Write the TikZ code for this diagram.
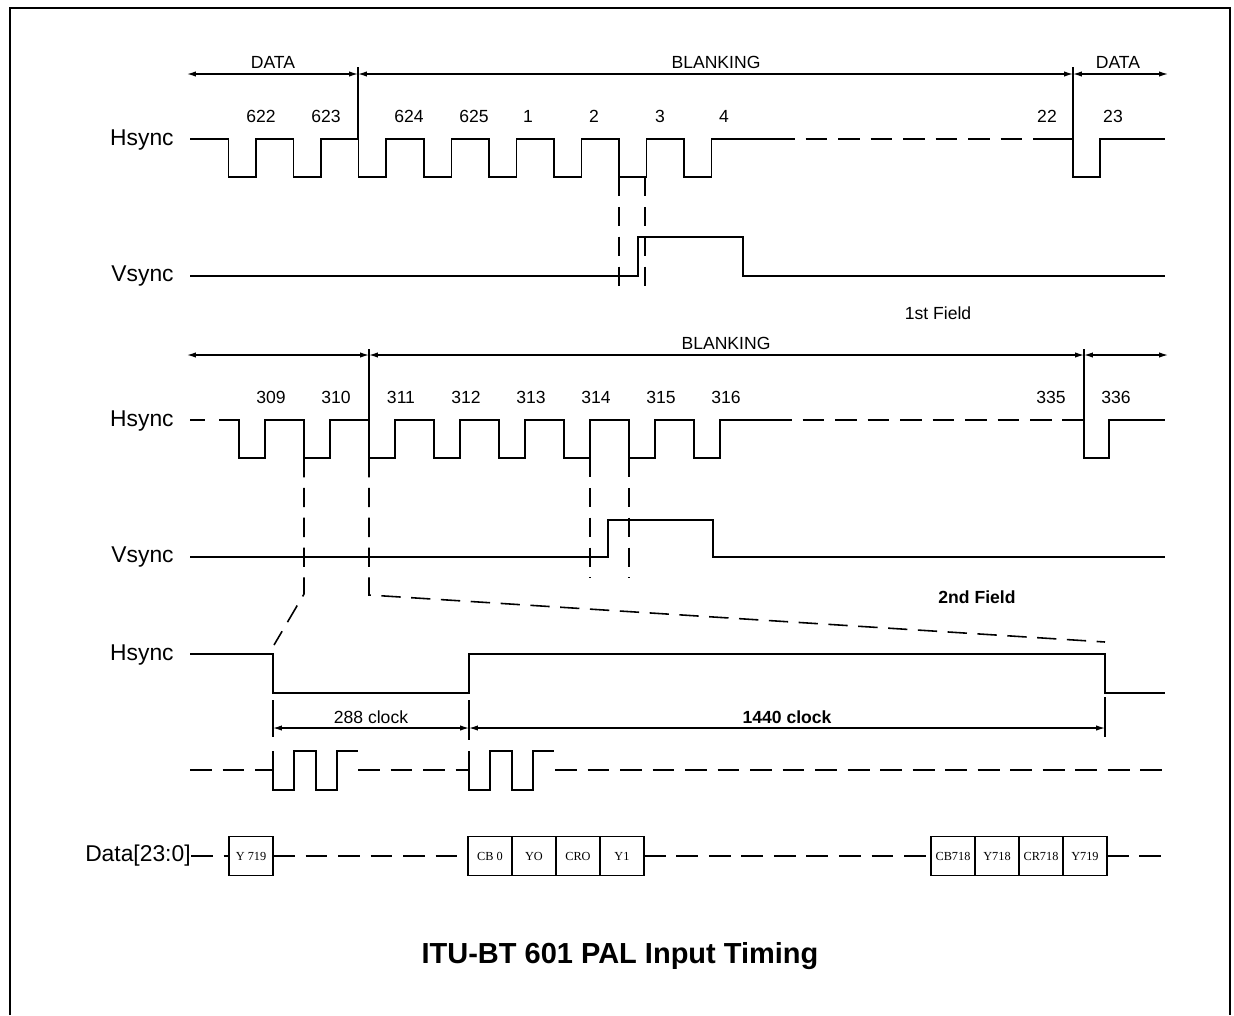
\documentclass[tikz,border=0pt]{standalone}
\usepackage{fontspec}
\setmainfont{Liberation Sans}
\newfontfamily\cellfont{Liberation Serif}
\usetikzlibrary{calc}
\usetikzlibrary{arrows.meta}
\usetikzlibrary{positioning}

\tikzset{
  sig/.style={line width=0.9pt},
  gapline/.style={line width=0.9pt,dash pattern=on 12.5pt off 6pt},
  guide/.style={line width=0.9pt,dash pattern=on 11pt off 6pt},
  dimarrow/.style={line width=0.7pt,{Latex[length=5pt,width=3pt]}-{Latex[length=5pt,width=3pt]}},
  lbl/.style={font=\fontsize{10}{12}\selectfont,inner sep=1pt},
  signame/.style={font=\fontsize{13}{15}\selectfont,anchor=east,inner sep=0pt},
  cell/.style={draw,line width=0.7pt,minimum width=0.88cm,minimum height=0.78cm,
    inner sep=0pt,outer sep=0pt,font=\cellfont\fontsize{7}{8}\selectfont},
}

\begin{document}
\begin{tikzpicture}[x=0.02cm,y=-0.02cm]
  % Constants
  \pgfmathsetmacro\pa{65.1}
  \pgfmathsetmacro\pb{65}
  % Boundary
  \useasboundingbox (0,0) rectangle (1234,1015);
  \draw[line width=1pt] (10,1015) -- (10,8) -- (1230,8) -- (1230,1015);

  % ---- 1st field ----
  \coordinate (ta) at (187,74);
  \coordinate (tb) at (358,74);
  \coordinate (tc) at (1073,74);
  \coordinate (td) at (1168,74);
  \draw[dimarrow] (ta) -- (tb);
  \draw[dimarrow] (tb) -- (tc);
  \draw[dimarrow] (tc) -- (td);
  \draw[sig] (358,67) -- (358,139);
  \draw[sig] (1073,67) -- (1073,139);
  \node[lbl] (data1) at (273,62) {DATA};
  \node[lbl] (blank1) at (716,62) {BLANKING};
  \node[lbl] (data2) at (1118,62) {DATA};
  \foreach \num/\xx in {622/261,623/326,624/409,625/474,1/528,2/594,3/660,4/724,22/1047,23/1113}
    \node[lbl] (n\num) at (\xx,116) {\num};

  \node[signame] (hs1) at (174,140) {Hsync};
  \draw[sig] (190,139) \foreach \i in {0,...,7} {
      -- ({228.5+\pa*\i},139) -- ++(0,38) -- ++(27.5,0) -- ++(0,-38) } -- (773,139);
  \draw[gapline] (773,139) -- (1050,139);
  \draw[sig] (1050,139) -- (1073,139) -- (1073,177) -- (1100,177) -- (1100,139) -- (1165,139);

  \node[signame] (vs1) at (174,276) {Vsync};
  \draw[sig] (190,276) -- (638,276) -- (638,237) -- (743,237) -- (743,276) -- (1165,276);
  \draw[guide] (619,177) -- (619,291);
  \draw[guide] (645,177) -- (645,291);
  \node[lbl] (field1) at (938,313) {1st Field};

  % ---- 2nd field ----
  \coordinate (ua) at (187,355);
  \coordinate (ub) at (369,355);
  \coordinate (uc) at (1084,355);
  \coordinate (ud) at (1168,355);
  \draw[dimarrow] (ua) -- (ub);
  \draw[dimarrow] (ub) -- (uc);
  \draw[dimarrow] (uc) -- (ud);
  \draw[sig] (369,349) -- (369,420);
  \draw[sig] (1084,349) -- (1084,420);
  \node[lbl] (blank2) at (726,343) {BLANKING};
  \foreach \num/\xx in {309/271,310/336,311/401,312/466,313/531,314/596,315/661,316/726,335/1051,336/1116}
    \node[lbl] (n\num) at (\xx,397) {\num};

  \node[signame] (hs2) at (174,421) {Hsync};
  \draw[sig] (190,420) -- (205,420);
  \draw[sig] (219,420) \foreach \i in {0,...,7} {
      -- ({239+\pb*\i},420) -- ++(0,38) -- ++(26,0) -- ++(0,-38) } -- (770,420);
  \draw[gapline] (770,420) -- (1062,420);
  \draw[sig] (1062,420) -- (1084,420) -- (1084,458) -- (1109,458) -- (1109,420) -- (1165,420);

  \node[signame] (vs2) at (174,557) {Vsync};
  \draw[sig] (190,557) -- (608,557) -- (608,520) -- (713,520) -- (713,557) -- (1165,557);
  \draw[guide] (590,458) -- (590,578);
  \draw[guide] (629,458) -- (629,578);
  \node[lbl,font=\bfseries\fontsize{10}{12}\selectfont] (field2) at (977,597) {2nd Field};

  % zoom lines
  \draw[guide] (304,458) -- (304,594) -- (274,645);
  \draw[guide] (369,458) -- (369,595) -- (1105,642);

  % ---- one line ----
  \node[signame] (hs3) at (174,655) {Hsync};
  \draw[sig] (190,654) -- (273,654) -- (273,693) -- (469,693) -- (469,654) -- (1105,654)
    -- (1105,693) -- (1165,693);
  \draw[line width=0.7pt] (273,700) -- (273,737);
  \draw[line width=0.7pt] (469,700) -- (469,740);
  \draw[line width=0.7pt] (1105,697) -- (1105,737);
  \coordinate (va) at (273,728);
  \coordinate (vb) at (469,728);
  \coordinate (vc) at (1105,728);
  \draw[dimarrow] (va) -- (vb);
  \draw[dimarrow] (vb) -- (vc);
  \node[lbl] (clk288) at (371,717) {288 clock};
  \node[lbl,font=\bfseries\fontsize{10}{12}\selectfont] (clk1440) at (787,717) {1440 clock};

  % clock
  \draw[gapline] (190,770) -- (273,770);
  \foreach \xs in {273,469}
    \draw[sig] (\xs,751) -- ++(0,39) -- ++(21,0) -- ++(0,-39) -- ++(22,0) -- ++(0,39)
      -- ++(21,0) -- ++(0,-39) -- ++(21,0);
  \draw[gapline] (358,770) -- (469,770);
  \draw[gapline] (555,770) -- (1165,770);

  % data
  \node[signame] (dlbl) at (191,856) {Data[23:0]};
  \node[cell] (y719a) at (251,856) {Y 719};
  \node[cell,anchor=west] (cb0) at (468,856) {CB 0};
  \node[cell,right=0pt of cb0] (y0) {YO};
  \node[cell,right=0pt of y0] (cr0) {CRO};
  \node[cell,right=0pt of cr0] (y1) {Y1};
  \node[cell,anchor=west] (cb718) at (931,856) {CB718};
  \node[cell,right=0pt of cb718] (y718) {Y718};
  \node[cell,right=0pt of y718] (cr718) {CR718};
  \node[cell,right=0pt of cr718] (y719b) {Y719};
  \coordinate (dend) at (1165,856);
  \draw[gapline] (dlbl.east) -- (y719a.west);
  \draw[gapline] (y719a.east) -- (cb0.west);
  \draw[gapline] (y1.east) -- (cb718.west);
  \draw[gapline] (y719b.east) -- (dend);

  % Title
  \node[font=\bfseries\fontsize{16.5}{19}\selectfont] (title) at (620,956) {ITU-BT 601 PAL Input Timing};
\end{tikzpicture}
\end{document}
